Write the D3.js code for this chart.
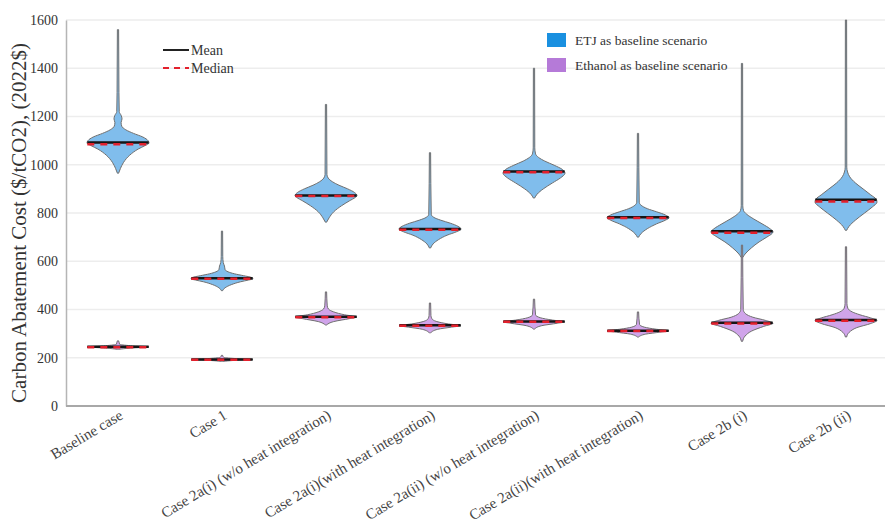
<!DOCTYPE html>
<html>
<head>
<meta charset="utf-8">
<script src="https://cdn.jsdelivr.net/npm/d3@7"></script>
<style>
  body { margin: 0; background: #fff; }
  svg text { font-family: "Liberation Serif", "DejaVu Serif", serif; }
  .grid line { stroke: #ededed; stroke-width: 1.5; }
</style>
</head>
<body>
<div class="chart"></div>
<script>
const w = 885;
const h = 523;

const categories = ["Baseline case", "Case 1", "Case 2a(i) (w/o heat integration)", "Case 2a(i)(with heat integration)",
  "Case 2a(ii) (w/o heat integration)", "Case 2a(ii)(with heat integration)", "Case 2b (i)", "Case 2b (ii)"];
const yTicks = [0, 200, 400, 600, 800, 1000, 1200, 1400, 1600];

// ETJ as baseline scenario: mean, median, density profile [value, relative width]
const etjMean = [1092, 530, 873, 734, 972, 782, 724, 855];
const etjMedian = [1085, 527, 870, 731, 969, 779, 718, 848];
const etjProfiles = [
  [[965,0.02],[985,0.08],[1010,0.18],[1040,0.38],[1065,0.65],[1080,0.88],[1090,1],[1100,0.97],[1115,0.8],[1130,0.5],[1145,0.25],[1160,0.12],[1175,0.1],[1190,0.13],[1205,0.1],[1220,0.04],[1300,0.03],[1560,0.02]],
  [[478,0.02],[490,0.1],[503,0.3],[515,0.6],[522,0.85],[527,1],[533,0.95],[540,0.7],[548,0.4],[556,0.2],[565,0.1],[580,0.08],[595,0.04],[620,0.025],[725,0.02]],
  [[762,0.02],[780,0.1],[805,0.25],[830,0.5],[850,0.75],[865,0.95],[872,1],[885,0.92],[900,0.7],[915,0.42],[930,0.2],[945,0.07],[960,0.03],[1250,0.02]],
  [[655,0.02],[672,0.1],[690,0.28],[708,0.55],[722,0.85],[733,1],[745,0.9],[758,0.65],[770,0.35],[782,0.12],[795,0.04],[1050,0.02]],
  [[862,0.02],[878,0.1],[900,0.3],[925,0.6],[945,0.85],[965,1],[980,0.92],[998,0.65],[1015,0.35],[1030,0.15],[1045,0.05],[1070,0.025],[1400,0.02]],
  [[700,0.02],[715,0.1],[735,0.3],[755,0.6],[770,0.88],[780,1],[792,0.88],[805,0.6],[818,0.3],[832,0.1],[845,0.04],[1130,0.02]],
  [[615,0.02],[630,0.1],[655,0.3],[680,0.55],[700,0.8],[715,0.97],[722,1],[735,0.9],[755,0.65],[775,0.38],[795,0.15],[810,0.05],[830,0.025],[1420,0.02]],
  [[728,0.02],[745,0.1],[770,0.3],[800,0.6],[825,0.85],[845,1],[858,0.97],[875,0.8],[900,0.55],[925,0.3],[950,0.12],[970,0.05],[990,0.025],[1600,0.02]]
];

// Ethanol as baseline scenario
const ethMean = [246, 193, 370, 335, 350, 312, 345, 356];
const ethMedian = [244, 192, 368, 333, 349, 311, 342, 353];
const ethProfiles = [
  [[235,0.02],[240,0.4],[245,1],[250,0.4],[256,0.05],[262,0.04],[270,0.02]],
  [[185,0.02],[189,0.4],[193,1],[197,0.4],[202,0.05],[210,0.02]],
  [[336,0.02],[350,0.25],[362,0.75],[369,1],[378,0.6],[390,0.25],[402,0.08],[415,0.04],[473,0.02]],
  [[303,0.02],[318,0.25],[327,0.7],[333,1],[340,0.6],[350,0.22],[362,0.06],[375,0.03],[427,0.02]],
  [[319,0.02],[333,0.25],[343,0.75],[349,1],[356,0.6],[366,0.2],[378,0.05],[443,0.02]],
  [[286,0.02],[298,0.25],[306,0.7],[312,1],[318,0.6],[327,0.2],[338,0.05],[390,0.02]],
  [[268,0.02],[290,0.1],[310,0.3],[330,0.7],[343,1],[355,0.75],[368,0.35],[382,0.12],[400,0.04],[667,0.02]],
  [[286,0.02],[305,0.1],[325,0.35],[342,0.8],[355,1],[365,0.8],[378,0.45],[390,0.2],[405,0.06],[425,0.03],[660,0.02]]
];

const series = [
  {name: "ETJ as baseline scenario", swatch: "#1a90e0", fill: "#80bdec", mean: etjMean, median: etjMedian, profiles: etjProfiles},
  {name: "Ethanol as baseline scenario", swatch: "#b57ad8", fill: "#d0a4ea", mean: ethMean, median: ethMedian, profiles: ethProfiles}
];

const margin = {top: 20, left: 66, bottom: 117};

const svg = d3.select(".chart")
  .append("svg")
  .attr("width", w)
  .attr("height", h);

const x = d3.scaleBand()
  .domain(categories)
  .range([margin.left, 898]);

const y = d3.scaleLinear()
  .domain([0, 1600])
  .range([h - margin.bottom, margin.top]);

const halfW = d3.scaleLinear().domain([0, 1]).range([0, 31]);

// gridlines
svg.append("g")
  .attr("class", "grid")
  .selectAll("line")
  .data(yTicks.slice(1))
  .enter().append("line")
  .attr("x1", margin.left)
  .attr("x2", w)
  .attr("y1", d => y(d))
  .attr("y2", d => y(d));

// y axis
const yAxis = svg.append("g")
  .attr("transform", `translate(${margin.left},0)`)
  .call(d3.axisLeft(y).tickValues(yTicks).tickFormat(d3.format("d")).tickSize(0).tickPadding(8));
yAxis.select(".domain").attr("stroke", "#b5b5b5").attr("stroke-width", 1.5);
yAxis.selectAll("text").attr("font-size", "14px").attr("fill", "#333");

// bottom axis line
svg.append("line")
  .attr("x1", margin.left).attr("x2", w)
  .attr("y1", y(0)).attr("y2", y(0))
  .attr("stroke", "#a8a8a8").attr("stroke-width", 2);

// x labels
svg.append("g")
  .selectAll("text")
  .data(categories)
  .enter().append("text")
  .attr("transform", d => `translate(${x(d) + x.bandwidth() / 2 + 6},${y(0) + 12}) rotate(-31)`)
  .attr("text-anchor", "end")
  .attr("font-size", "15px")
  .attr("fill", "#444")
  .text(d => d);

// y label
svg.append("text")
  .attr("transform", `translate(26,${(y(0) + y(1600)) / 2 + 10}) rotate(-90)`)
  .attr("text-anchor", "middle")
  .attr("font-size", "21px")
  .attr("fill", "#333")
  .text("Carbon Abatement Cost ($/tCO2), (2022$)");

const area = d3.area()
  .curve(d3.curveMonotoneY)
  .y(d => y(d[0]));

series.forEach(s => {
  const g = svg.append("g");
  categories.forEach((c, i) => {
    const cx = x(c) + x.bandwidth() / 2;
    g.append("path")
      .datum(s.profiles[i])
      .attr("d", area.x0(d => cx - halfW(d[1])).x1(d => cx + halfW(d[1])))
      .attr("fill", s.fill)
      .attr("stroke", "#6f6f6f")
      .attr("stroke-width", 1);
    g.append("line")
      .attr("x1", cx - halfW(0.99)).attr("x2", cx + halfW(0.99))
      .attr("y1", y(s.mean[i])).attr("y2", y(s.mean[i]))
      .attr("stroke", "#151515").attr("stroke-width", 2.5);
    g.append("line")
      .attr("x1", cx - halfW(0.99)).attr("x2", cx + halfW(0.99))
      .attr("y1", y(s.median[i])).attr("y2", y(s.median[i]))
      .attr("stroke", "#e3202c").attr("stroke-width", 2.5)
      .attr("stroke-dasharray", "7,6");
  });
});

// mean / median legend
const leg1 = svg.append("g");
leg1.append("line").attr("x1", 163).attr("x2", 189).attr("y1", 50).attr("y2", 50)
  .attr("stroke", "#222").attr("stroke-width", 2);
leg1.append("line").attr("x1", 163).attr("x2", 189).attr("y1", 68).attr("y2", 68)
  .attr("stroke", "#e3202c").attr("stroke-width", 2).attr("stroke-dasharray", "6,5");
leg1.selectAll("text")
  .data(["Mean", "Median"])
  .enter().append("text")
  .attr("x", 191)
  .attr("y", (d, i) => 55 + i * 18)
  .attr("font-size", "14px")
  .attr("fill", "#333")
  .text(d => d);

// scenario legend
const leg2 = svg.append("g");
leg2.selectAll("rect")
  .data(series)
  .enter().append("rect")
  .attr("x", 547)
  .attr("y", (d, i) => 33 + i * 25)
  .attr("width", 19)
  .attr("height", 14)
  .attr("fill", d => d.swatch);
leg2.selectAll("text")
  .data(series)
  .enter().append("text")
  .attr("x", 575)
  .attr("y", (d, i) => 45 + i * 25)
  .attr("font-size", "13.5px")
  .attr("fill", "#333")
  .text(d => d.name);
</script>
</body>
</html>
